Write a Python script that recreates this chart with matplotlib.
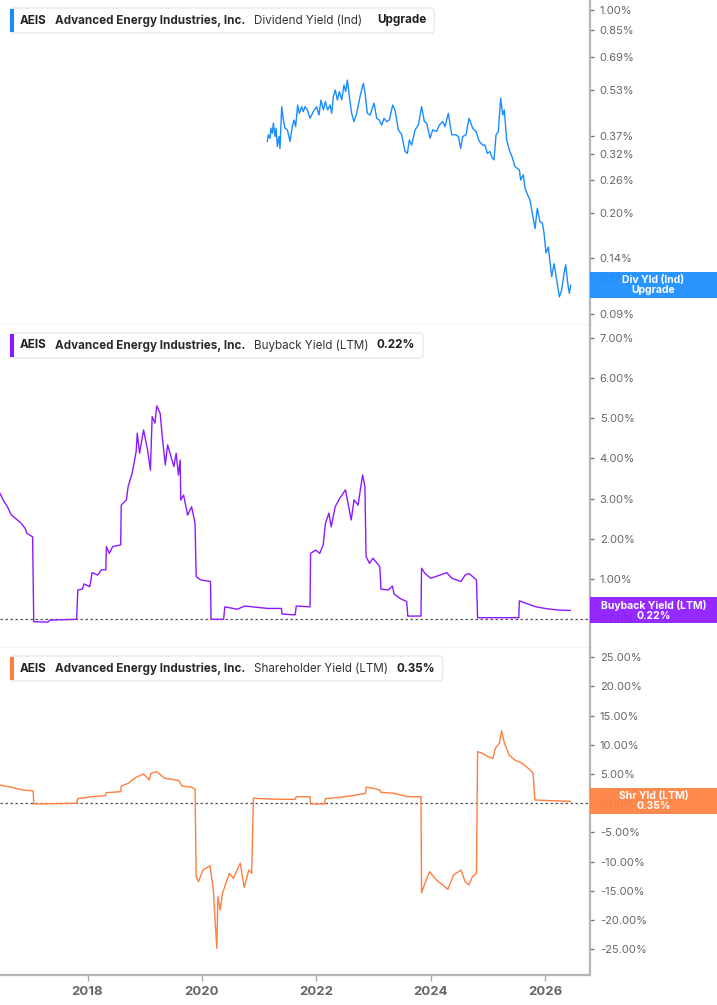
import numpy as np
import matplotlib.pyplot as plt
from matplotlib.patches import FancyBboxPatch, Rectangle
from matplotlib.ticker import NullLocator

plt.rcParams["font.family"] = ["Inter", "DejaVu Sans"]

# dividend yield (ind), %
div_years = [
    2021.144, 2021.161, 2021.191, 2021.208, 2021.231, 2021.249, 2021.278, 2021.296,
    2021.319, 2021.348, 2021.365, 2021.395, 2021.424, 2021.453, 2021.494, 2021.540,
    2021.581, 2021.610, 2021.639, 2021.674, 2021.703, 2021.744, 2021.773, 2021.802,
    2021.843, 2021.890, 2021.948, 2022.006, 2022.047, 2022.082, 2022.123, 2022.158,
    2022.199, 2022.240, 2022.269, 2022.298, 2022.333, 2022.368, 2022.403, 2022.444,
    2022.484, 2022.514, 2022.543, 2022.578, 2022.618, 2022.659, 2022.706, 2022.764,
    2022.822, 2022.852, 2022.892, 2022.939, 2023.009, 2023.056, 2023.102, 2023.143,
    2023.184, 2023.230, 2023.277, 2023.335, 2023.376, 2023.434, 2023.493, 2023.551,
    2023.592, 2023.627, 2023.667, 2023.726, 2023.784, 2023.842, 2023.889, 2023.930,
    2023.988, 2024.035, 2024.104, 2024.151, 2024.209, 2024.250, 2024.308, 2024.367,
    2024.442, 2024.483, 2024.524, 2024.559, 2024.617, 2024.670, 2024.734, 2024.792,
    2024.850, 2024.909, 2024.949, 2024.990, 2025.037, 2025.066, 2025.107, 2025.142,
    2025.182, 2025.223, 2025.258, 2025.287, 2025.328, 2025.375, 2025.421, 2025.474,
    2025.550, 2025.573, 2025.620, 2025.649, 2025.695, 2025.736, 2025.783, 2025.824,
    2025.864, 2025.911, 2025.952, 2025.981, 2026.016, 2026.057, 2026.115, 2026.156,
    2026.202, 2026.249, 2026.290, 2026.331, 2026.360, 2026.395, 2026.424, 2026.447,
]
div_values = [
    0.353, 0.372, 0.362, 0.392, 0.376, 0.408, 0.367, 0.392,
    0.339, 0.367, 0.334, 0.465, 0.418, 0.392, 0.387, 0.353,
    0.397, 0.418, 0.397, 0.471, 0.441, 0.465, 0.447, 0.465,
    0.453, 0.424, 0.447, 0.465, 0.435, 0.490, 0.453, 0.484,
    0.453, 0.471, 0.441, 0.503, 0.531, 0.490, 0.524, 0.490,
    0.552, 0.524, 0.574, 0.503, 0.441, 0.413, 0.441, 0.503,
    0.559, 0.517, 0.441, 0.435, 0.478, 0.424, 0.418, 0.402,
    0.424, 0.413, 0.418, 0.471, 0.453, 0.387, 0.372, 0.326,
    0.321, 0.357, 0.343, 0.387, 0.402, 0.465, 0.413, 0.408,
    0.362, 0.387, 0.382, 0.402, 0.413, 0.397, 0.441, 0.372,
    0.372, 0.367, 0.334, 0.367, 0.372, 0.424, 0.392, 0.382,
    0.353, 0.343, 0.343, 0.321, 0.326, 0.313, 0.305, 0.372,
    0.382, 0.497, 0.435, 0.453, 0.357, 0.330, 0.313, 0.289,
    0.282, 0.260, 0.271, 0.244, 0.231, 0.222, 0.197, 0.177,
    0.208, 0.187, 0.185, 0.171, 0.146, 0.153, 0.121, 0.134,
    0.118, 0.103, 0.109, 0.124, 0.133, 0.115, 0.106, 0.113,
]

# buyback yield (LTM), %
bb_years = [
    2016.47, 2016.54, 2016.60, 2016.67, 2016.74, 2016.84, 2016.91, 2016.94, 2017.04, 2017.06,
    2017.31, 2017.34, 2017.81, 2017.83, 2017.91, 2017.94, 2018.04, 2018.08, 2018.18, 2018.24,
    2018.32, 2018.33, 2018.38, 2018.44, 2018.58, 2018.59, 2018.68, 2018.71, 2018.78, 2018.85,
    2018.87, 2018.91, 2018.98, 2019.05, 2019.10, 2019.13, 2019.18, 2019.21, 2019.27, 2019.31,
    2019.36, 2019.40, 2019.46, 2019.51, 2019.55, 2019.59, 2019.62, 2019.63, 2019.68, 2019.75,
    2019.82, 2019.88, 2019.90, 2019.98, 2020.15, 2020.16, 2020.38, 2020.40, 2020.62, 2020.75,
    2021.15, 2021.39, 2021.40, 2021.63, 2021.65, 2021.89, 2021.90, 2021.99, 2022.06, 2022.12,
    2022.16, 2022.22, 2022.26, 2022.33, 2022.41, 2022.51, 2022.61, 2022.66, 2022.73, 2022.77,
    2022.81, 2022.85, 2022.87, 2022.93, 2022.99, 2023.11, 2023.13, 2023.26, 2023.33, 2023.36,
    2023.46, 2023.58, 2023.60, 2023.83, 2023.84, 2023.90, 2024.00, 2024.28, 2024.37, 2024.53,
    2024.60, 2024.67, 2024.80, 2024.82, 2025.54, 2025.55, 2025.64, 2025.84, 2026.04, 2026.24,
    2026.44,
]
bb_values = [
    3.13, 2.93, 2.80, 2.59, 2.51, 2.39, 2.26, 2.14, 2.05, -0.06,
    -0.07, -0.02, 0.00, 0.73, 0.75, 0.88, 0.81, 1.16, 1.10, 1.23,
    1.23, 1.81, 1.64, 1.81, 1.85, 2.84, 2.97, 3.30, 3.63, 4.17,
    4.63, 4.13, 4.71, 4.21, 3.71, 5.04, 4.88, 5.31, 5.12, 4.50,
    3.84, 4.34, 4.04, 3.80, 4.13, 3.59, 3.96, 2.97, 3.09, 2.59,
    2.80, 2.39, 1.06, 0.98, 0.94, 0.00, 0.00, 0.31, 0.25, 0.33,
    0.27, 0.27, 0.13, 0.11, 0.33, 0.31, 1.64, 1.72, 1.64, 1.85,
    2.39, 2.64, 2.30, 2.80, 3.01, 3.22, 2.47, 2.97, 2.84, 3.22,
    3.59, 3.30, 1.56, 1.39, 1.52, 1.31, 0.75, 0.73, 0.83, 0.63,
    0.52, 0.44, 0.08, 0.08, 1.27, 1.14, 1.02, 1.16, 1.02, 0.94,
    1.10, 1.14, 0.98, 0.04, 0.04, 0.46, 0.41, 0.31, 0.26, 0.23,
    0.22,
]

# shareholder yield (LTM), %
shr_years = [
    2016.47, 2016.67, 2016.87, 2017.05, 2017.06, 2017.81, 2017.83, 2018.08, 2018.31, 2018.33,
    2018.58, 2018.59, 2018.71, 2018.85, 2018.98, 2019.08, 2019.11, 2019.21, 2019.35, 2019.48,
    2019.60, 2019.65, 2019.82, 2019.88, 2019.90, 2019.94, 2020.02, 2020.14, 2020.16, 2020.20,
    2020.23, 2020.26, 2020.28, 2020.32, 2020.36, 2020.42, 2020.48, 2020.55, 2020.67, 2020.74,
    2020.82, 2020.87, 2020.90, 2021.15, 2021.42, 2021.63, 2021.65, 2021.89, 2021.90, 2022.14,
    2022.16, 2022.36, 2022.63, 2022.86, 2022.87, 2022.99, 2023.11, 2023.13, 2023.36, 2023.60,
    2023.83, 2023.84, 2023.90, 2023.98, 2024.10, 2024.30, 2024.40, 2024.53, 2024.60, 2024.67,
    2024.73, 2024.80, 2024.82, 2024.90, 2025.00, 2025.09, 2025.13, 2025.20, 2025.24, 2025.29,
    2025.37, 2025.47, 2025.60, 2025.74, 2025.79, 2025.82, 2026.10, 2026.44,
]
shr_values = [
    3.13, 2.74, 2.28, 2.11, -0.12, 0.00, 0.79, 1.13, 1.30, 1.82,
    1.99, 2.96, 3.42, 4.45, 5.02, 3.99, 5.14, 5.41, 4.28, 4.11,
    3.87, 2.96, 2.74, 2.40, -12.57, -13.42, -11.42, -10.68, -11.99, -14.85,
    -19.98, -24.83, -15.99, -18.27, -15.41, -13.70, -11.99, -12.84, -10.27, -14.38,
    -11.42, -11.99, 0.86, 0.74, 0.68, 0.68, 1.13, 1.13, -0.12, -0.12,
    0.79, 0.97, 1.30, 1.71, 2.74, 2.57, 2.28, 1.88, 1.71, 1.13,
    1.13, -15.31, -13.70, -11.71, -13.13, -14.73, -12.28, -11.42, -13.42, -13.99,
    -12.57, -11.99, 8.84, 8.56, 7.98, 7.71, 9.42, 10.27, 12.43, 10.27,
    8.27, 7.41, 6.85, 5.70, 5.14, 0.57, 0.45, 0.34,
]

div_ticks = [0.09, 0.12, 0.14, 0.20, 0.26, 0.32, 0.37, 0.53, 0.69, 0.85, 1.00]
bb_ticks = [0, 1, 2, 3, 4, 5, 6, 7]
shr_ticks = [-25, -20, -15, -10, -5, 0, 5, 10, 15, 20, 25]
year_ticks = [2018, 2020, 2022, 2024, 2026]

company = ["AEIS", "Advanced Energy Industries, Inc."]
panels = [
    ("Dividend Yield (Ind)", "Upgrade", "#1a8cff", "Div Yld (Ind)\nUpgrade"),
    ("Buyback Yield (LTM)", "0.22%", "#8c1aff", "Buyback Yield (LTM)\n0.22%"),
    ("Shareholder Yield (LTM)", "0.35%", "#ff7f3f", "Shr Yld (LTM)\n0.35%"),
]

W, H = 717, 1005
AX_RIGHT = 590

fig = plt.figure(figsize=(W / 100, H / 100), dpi=100)
fig.patch.set_facecolor("white")


def add_panel(top, bottom):
    return fig.add_axes([0, 1 - bottom / H, AX_RIGHT / W, (bottom - top) / H])


ax1 = add_panel(0, 325)
ax2 = add_panel(325, 648)
ax3 = add_panel(648, 975)
axes = [ax1, ax2, ax3]
tops = [0, 325, 648]

ax1.plot(div_years, div_values, color=panels[0][2], lw=1.0)
ax2.plot(bb_years, bb_values, color=panels[1][2], lw=1.0)
ax3.plot(shr_years, shr_values, color=panels[2][2], lw=1.0)

ax1.set_yscale("log")
ax1.set_ylim(0.0825, 1.082)
ax1.set_yticks(div_ticks)
ax1.set_yticklabels([f"{v:.2f}%" for v in div_ticks])
ax1.yaxis.set_minor_locator(NullLocator())

ax2.set_ylim(-0.714, 7.32)
ax2.set_yticks(bb_ticks)
ax2.set_yticklabels([f"{v:.2f}%" for v in bb_ticks])

ax3.set_ylim(-29.4, 26.59)
ax3.set_yticks(shr_ticks)
ax3.set_yticklabels([f"{v:.2f}%" for v in shr_ticks])

for ax in [ax2, ax3]:
    ax.axhline(0, color="#555555", lw=0.9, ls=(0, (2, 2)), zorder=1)

for ax in axes:
    ax.set_xlim(2016.47, 2026.785)
    ax.set_facecolor("white")
    ax.spines["left"].set_visible(False)
    ax.spines["top"].set_visible(False)
    ax.spines["right"].set_color("#b5b5b5")
    ax.spines["right"].set_linewidth(1.6)
    ax.spines["bottom"].set_color("#cfcfcf")
    ax.spines["bottom"].set_linewidth(1.0)
    ax.yaxis.tick_right()
    ax.tick_params(axis="y", direction="out", length=3, width=1,
                   color="#777777", labelcolor="#666666", labelsize=8, pad=4)
    ax.tick_params(axis="x", bottom=False, labelbottom=False)

ax3.spines["bottom"].set_color("#b5b5b5")
ax3.spines["bottom"].set_linewidth(1.6)
ax3.set_xticks(year_ticks)
ax3.set_xticklabels([str(y) for y in year_ticks])
ax3.tick_params(axis="x", bottom=True, labelbottom=True, length=4, width=1,
                color="#aaaaaa", labelcolor="#666666", labelsize=9.5, pad=4)
for lab in ax3.get_xticklabels():
    lab.set_fontweight("bold")

# legend boxes top-left of each panel
legend_texts = []
for ax, top, (metric, value, color, _) in zip(axes, tops, panels):
    yc = top + 20.5
    parts = [(company[0], "bold", "#1f1f1f", 0),
             (company[1], "bold", "#2a2a2a", 5.8),
             (metric, "normal", "#333333", 6.5),
             (value, "bold", "#1f1f1f", 10.5 if value == "Upgrade" else 5.8)]
    prev = None
    for s, w, c, gap in parts:
        if prev is None:
            t = ax.text(20 / W, 1 - yc / H, s, transform=fig.transFigure,
                        fontsize=8.4, fontweight=w, color=c,
                        va="center", ha="left", zorder=6)
        else:
            t = ax.annotate(s, xy=(1, 0.5), xycoords=prev, xytext=(gap, 0),
                            textcoords="offset points", fontsize=8.4, fontweight=w,
                            color=c, va="center", ha="left", zorder=6,
                            annotation_clip=False)
        prev = t
    legend_texts.append((ax, top, prev, color))

fig.canvas.draw()
for ax, top, last, color in legend_texts:
    x_end = last.get_window_extent().x1
    box = FancyBboxPatch((10 / W, 1 - (top + 33) / H), (x_end + 8 - 10) / W, 25 / H,
                         boxstyle="round,pad=0,rounding_size=0.004",
                         transform=fig.transFigure, facecolor="white",
                         edgecolor="#e4e4e4", lw=0.8, zorder=5, clip_on=False)
    ax.add_patch(box)
    bar = Rectangle((10 / W, 1 - (top + 32) / H), 3.5 / W, 23 / H,
                    transform=fig.transFigure, facecolor=color, edgecolor="none",
                    zorder=5.5, clip_on=False)
    ax.add_patch(bar)

# value tags on the right axis
lasts = [(div_years[-1], div_values[-1]), (bb_years[-1], bb_values[-1]),
         (shr_years[-1], shr_values[-1])]
for ax, (xl, yl), (_, _, color, tag) in zip(axes, lasts, panels):
    y_disp = ax.transData.transform((xl, yl))[1]
    yc = y_disp / fig.bbox.height
    rect = Rectangle((AX_RIGHT / W, yc - 13 / H), (W - AX_RIGHT) / W, 26 / H,
                     transform=fig.transFigure, facecolor=color, edgecolor="none",
                     alpha=0.93, zorder=7, clip_on=False)
    ax.add_patch(rect)
    ax.text((AX_RIGHT + W) / 2 / W, yc, tag, transform=fig.transFigure,
            ha="center", va="center", fontsize=7.5, fontweight="bold",
            color="white", linespacing=1.0, zorder=8, clip_on=False)

fig.savefig("out.png", dpi=100, facecolor="white")
